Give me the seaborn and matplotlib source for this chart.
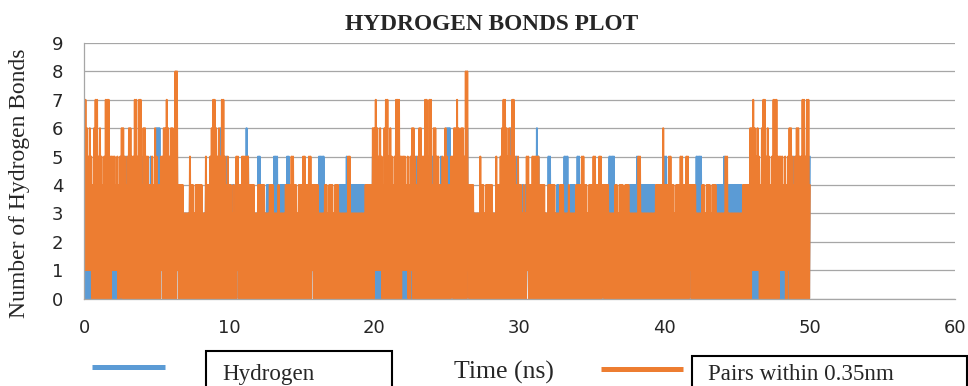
import numpy as np
import pandas as pd
import matplotlib.pyplot as plt
import seaborn as sns
from matplotlib.patches import Rectangle

# --- Data ---
# one peak / trough per 0.1 ns bin for the first 20 ns run;
# the picture shows the run again at 20-40 ns, then its 14-20 ns part, then its start

pairs_peak = [
    6, 7, 6, 5, 6, 5, 4, 6, 7, 7,   5, 6, 5, 4, 5, 7, 7, 7, 5, 5,
    5, 5, 4, 5, 4, 5, 6, 6, 5, 4,   5, 6, 6, 5, 5, 7, 7, 5, 7, 7,
    4, 6, 6, 5, 5, 4, 4, 5, 4, 6,   5, 4, 4, 5, 5, 6, 6, 7, 6, 5,
    6, 6, 5, 8, 8, 4, 4, 4, 4, 3,   3, 3, 3, 5, 4, 4, 3, 4, 4, 4,
    4, 4, 3, 3, 5, 4, 4, 5, 6, 7,   7, 6, 5, 6, 5, 7, 7, 5, 4, 5,
    4, 4, 3, 4, 3, 5, 5, 4, 4, 5,   5, 5, 5, 5, 4, 4, 4, 4, 3, 3,
    4, 4, 4, 4, 4, 3, 3, 3, 4, 4,   4, 3, 3, 3, 4, 3, 3, 3, 3, 4,
    4, 4, 4, 5, 5, 4, 4, 3, 4, 4,   4, 5, 5, 4, 4, 5, 5, 4, 4, 4,
    4, 4, 3, 3, 3, 3, 4, 4, 3, 4,   4, 4, 3, 4, 4, 4, 3, 3, 3, 3,
    3, 3, 5, 5, 3, 3, 3, 3, 3, 3,   3, 3, 3, 3, 4, 4, 4, 4, 4, 6,
]
pairs_trough = [
    1, 1, 1, 1, 1, 0, 0, 0, 0, 0,   0, 0, 0, 0, 0, 0, 0, 0, 0, 1,
    1, 1, 1, 0, 0, 1, 0, 0, 0, 0,   0, 0, 0, 0, 0, 0, 0, 0, 0, 0,
    0, 0, 0, 0, 0, 0, 0, 0, 0, 0,   0, 0, 0, 1, 0, 0, 0, 0, 0, 0,
    0, 0, 0, 0, 1, 0, 0, 0, 0, 0,   0, 0, 0, 0, 0, 0, 0, 0, 0, 0,
    0, 0, 0, 0, 0, 0, 0, 0, 0, 0,   0, 0, 0, 0, 0, 0, 0, 0, 0, 0,
    0, 0, 0, 0, 0, 1, 0, 0, 0, 0,   0, 0, 0, 0, 0, 0, 0, 0, 0, 0,
    0, 0, 0, 0, 0, 0, 0, 0, 0, 0,   0, 0, 0, 0, 0, 0, 0, 0, 0, 0,
    0, 0, 0, 0, 0, 0, 0, 0, 0, 0,   0, 0, 0, 0, 0, 0, 0, 1, 0, 0,
    0, 0, 0, 0, 0, 0, 0, 0, 0, 0,   0, 0, 0, 0, 0, 0, 0, 0, 0, 0,
    0, 0, 0, 0, 0, 0, 0, 0, 0, 0,   0, 0, 0, 0, 0, 0, 0, 0, 0, 0,
]
hbond_peak = [
    4, 5, 4, 4, 4, 3, 3, 4, 5, 4,   4, 4, 3, 3, 4, 5, 4, 4, 4, 3,
    4, 3, 3, 4, 3, 4, 4, 5, 4, 5,   4, 4, 4, 4, 4, 5, 4, 4, 5, 4,
    5, 5, 4, 4, 4, 3, 5, 4, 3, 4,   6, 6, 6, 4, 4, 5, 4, 5, 4, 4,
    4, 5, 4, 5, 6, 3, 3, 3, 3, 3,   3, 3, 3, 4, 3, 3, 3, 3, 3, 3,
    3, 3, 3, 3, 4, 3, 3, 4, 4, 5,   5, 4, 4, 4, 6, 5, 5, 4, 5, 4,
    3, 3, 4, 3, 4, 4, 4, 3, 3, 4,   4, 4, 6, 5, 3, 3, 3, 3, 3, 3,
    5, 5, 3, 3, 3, 3, 4, 4, 3, 3,   3, 5, 5, 5, 3, 4, 4, 4, 4, 3,
    5, 5, 3, 3, 3, 3, 3, 3, 3, 3,   3, 3, 3, 3, 3, 3, 3, 3, 3, 3,
    3, 3, 5, 5, 5, 5, 3, 3, 3, 3,   3, 3, 3, 3, 3, 3, 4, 4, 4, 4,
    4, 5, 4, 4, 4, 4, 4, 4, 4, 4,   4, 4, 4, 4, 3, 3, 3, 3, 3, 5,
]
hbond_trough = [
    0, 0, 0, 0, 0, 0, 0, 0, 0, 0,   0, 0, 0, 0, 0, 0, 0, 0, 0, 0,
    0, 0, 0, 0, 0, 0, 0, 0, 0, 0,   0, 0, 0, 0, 0, 0, 0, 0, 0, 0,
    0, 0, 0, 0, 0, 0, 0, 0, 0, 0,   0, 0, 0, 1, 0, 0, 0, 0, 0, 0,
    0, 0, 0, 0, 1, 0, 0, 0, 0, 0,   0, 0, 0, 0, 0, 0, 0, 0, 0, 0,
    0, 0, 0, 0, 0, 0, 0, 0, 0, 0,   0, 0, 0, 0, 0, 0, 0, 0, 0, 0,
    0, 0, 0, 0, 0, 1, 0, 0, 0, 0,   0, 0, 0, 0, 0, 0, 0, 0, 0, 0,
    0, 0, 0, 0, 0, 0, 0, 0, 0, 0,   0, 0, 0, 0, 0, 0, 0, 0, 0, 0,
    0, 0, 0, 0, 0, 0, 0, 0, 0, 0,   0, 0, 0, 0, 0, 0, 0, 1, 0, 0,
    0, 0, 0, 0, 0, 0, 0, 0, 0, 0,   0, 0, 0, 0, 0, 0, 0, 0, 0, 0,
    0, 0, 0, 0, 0, 0, 0, 0, 0, 0,   0, 0, 0, 0, 0, 0, 0, 0, 0, 0,
]

bin_ns = 0.1
series_names = ["Hydrogen", "Pairs within 0.35nm"]
x_ticks = [0, 10, 20, 30, 40, 50, 60]
y_ticks = list(range(10))

BLUE = "#5B9BD5"
ORANGE = "#ED7D31"
GRID = "#a6a6a6"


def whole_run(a):
    # 0-20 ns, 20-40 ns, 14-20 ns part, start again up to 50 ns
    return a + a + a[140:] + a[:41]


def trace(peaks, troughs, name):
    peaks, troughs = whole_run(peaks), whole_run(troughs)
    y = np.empty(2 * len(peaks))
    y[0::2] = peaks
    y[1::2] = troughs
    y = y[:-1]
    t = np.arange(len(y)) * bin_ns / 2
    return pd.DataFrame({"time": t, "count": y, "series": name})


df = pd.concat([trace(hbond_peak, hbond_trough, series_names[0]),
                trace(pairs_peak, pairs_trough, series_names[1])])

sns.set_style("white")
plt.rcParams["font.family"] = ["DejaVu Sans"]

W, H = 968, 386
fig = plt.figure(figsize=(W / 100, H / 100), dpi=100)
ax = fig.add_axes([84 / W, 87.5 / H, 871 / W, 255.5 / H])

sns.lineplot(data=df, x="time", y="count", hue="series", hue_order=series_names,
             palette=[BLUE, ORANGE], estimator=None, sort=False, legend=False,
             lw=1.4, ax=ax)

ax.set_xlim(0, 60)
ax.set_ylim(0, 9)
ax.set_xticks(x_ticks)
ax.set_yticks(y_ticks)
ax.set_xlabel("")
ax.set_ylabel("")
ax.set_axisbelow(True)
ax.yaxis.grid(True, color=GRID, lw=0.9)
ax.xaxis.grid(False)
for side in ["top", "right"]:
    ax.spines[side].set_visible(False)
for side in ["left", "bottom"]:
    ax.spines[side].set_color(GRID)
    ax.spines[side].set_linewidth(0.9)
ax.tick_params(axis="y", length=5, width=0.9, color=GRID, pad=10, labelsize=13)
ax.tick_params(axis="x", length=4, width=0.9, color=GRID, pad=11, labelsize=13)


def fx(x):
    return x / W


def fy(y):
    return 1 - y / H


serif = "Liberation Serif"
fig.text(fx(492), fy(30), "HYDROGEN BONDS PLOT", ha="center", va="baseline",
         fontsize=16.8, fontweight="bold", family=serif)
fig.text(fx(20), fy(183.5), "Number of Hydrogen Bonds", rotation=90,
         ha="center", va="center", fontsize=17, family=serif)
fig.text(fx(504), fy(379), "Time (ns)", ha="center", va="baseline",
         fontsize=18.5, family=serif)

# legend pieces as in the reference: line sample, then boxed label
fig.add_artist(plt.Line2D([fx(92), fx(165)], [fy(366.5), fy(366.5)],
                          color=BLUE, lw=3.6, solid_capstyle="butt"))
fig.add_artist(Rectangle((fx(206), fy(400)), (392 - 206) / W, 49 / H,
                         transform=fig.transFigure, fill=False,
                         edgecolor="black", lw=1.5))
fig.text(fx(222), fy(380), series_names[0], ha="left", va="baseline",
         fontsize=16.6, family=serif)

fig.add_artist(plt.Line2D([fx(601), fx(683)], [fy(368.5), fy(368.5)],
                          color=ORANGE, lw=3.6, solid_capstyle="butt"))
fig.add_artist(Rectangle((fx(692), fy(400)), (966.5 - 692) / W, 44 / H,
                         transform=fig.transFigure, fill=False,
                         edgecolor="black", lw=1.5))
fig.text(fx(708), fy(380), series_names[1], ha="left", va="baseline",
         fontsize=16.6, family=serif)

fig.savefig("out.png", dpi=100)
